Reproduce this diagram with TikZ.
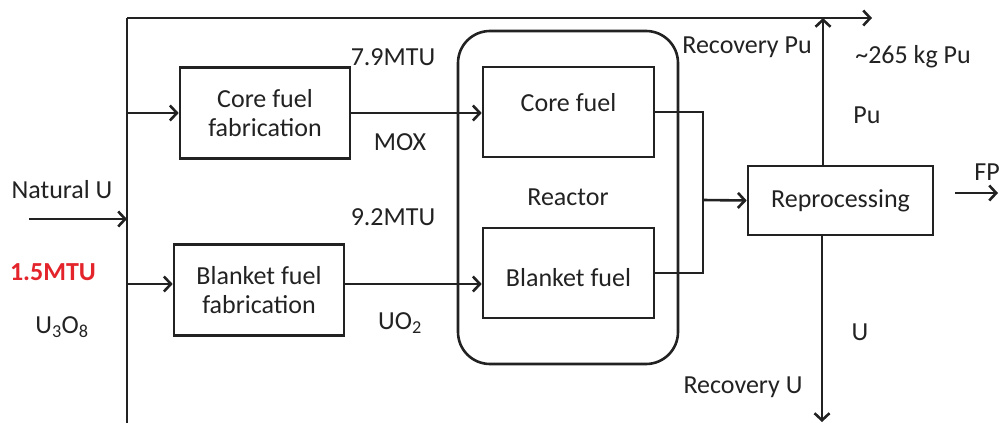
\documentclass[tikz,border=0pt]{standalone}
\usepackage{fontspec}
\setmainfont{Carlito}
\usetikzlibrary{positioning, arrows.meta}
\definecolor{flowInk}{HTML}{222222}
\definecolor{flowRed}{HTML}{E3242B}
\tikzset{
    flowBase/.style={
        rectangle,
        draw=flowInk,
        line width=2.6pt,
        inner sep=0pt,
        align=center,
        text=flowInk,
        font=\fontsize{26}{29}\selectfont
    },
    % Boxes
    fab/.style={flowBase, minimum width=170pt, minimum height=91pt},
    fuel/.style={flowBase, minimum width=171pt, minimum height=90pt},
    reactorBox/.style={flowBase, rounded corners=32pt, minimum width=220pt, minimum height=333pt},
    proc/.style={flowBase, minimum width=185pt, minimum height=69pt},
    % Lines and labels
    flowLine/.style={draw=flowInk, line width=2.6pt},
    flowArrow/.style={flowLine, -{Straight Barb[length=7pt,width=15pt]}},
    flowLabel/.style={text=flowInk, inner sep=0pt, font=\fontsize{26}{29}\selectfont}
}
\begin{document}
\begin{tikzpicture}[x=1pt, y=-1pt]
\useasboundingbox (0,0) rectangle (1003,423);

\node[fab] (corefab) at (265,113) {Core fuel\\fabrication};
\node[fab] (blanketfab) at (259,290) {Blanket fuel\\fabrication};
\node[reactorBox] (reactor) at (568,197.5) {Reactor};
\node[fuel, text depth=20pt] (corefuel) at (568.5,112) {Core fuel};
\node[fuel, text height=28pt] (blanketfuel) at (568.5,273) {Blanket fuel};
\node[proc] (reproc) at (840.5,200.5) {Reprocessing};

\coordinate (busTop) at (127,18);
\coordinate (busBot) at (127,423);
\coordinate (natIn) at (29,219);
\coordinate (coreLine) at (0,113);
\coordinate (blanketLine) at (0,284);
\coordinate (join) at (703,200);
\coordinate (puEnd) at (823,18);
\coordinate (topEnd) at (872,18);
\coordinate (uEnd) at (822,422);
\coordinate (fpStart) at (955,193);
\coordinate (fpEnd) at (998,193);

% feed bus
\draw[flowLine] (busBot) -- (busTop);
\draw[flowArrow] (busTop) -- (topEnd);
\draw[flowArrow] (natIn) -- (natIn -| busTop);
\draw[flowArrow] (coreLine -| busTop) -- (coreLine -| corefab.west);
\draw[flowArrow] (blanketLine -| busTop) -- (blanketLine -| blanketfab.west);

% fabrication to reactor
\draw[flowArrow] (coreLine -| corefab.east) -- (coreLine -| corefuel.west);
\draw[flowArrow] (blanketLine -| blanketfab.east) -- (blanketLine -| blanketfuel.west);

% reactor to reprocessing
\draw[flowLine] (corefuel.east) -| (join) |- (blanketfuel.east);
\draw[flowArrow] (join) -- (reproc.west);
\draw[flowArrow] (reproc.north -| puEnd) -- (puEnd);
\draw[flowArrow] (reproc.south -| uEnd) -- (uEnd);
\draw[flowArrow] (fpStart) -- (fpEnd);

% labels
\node[flowLabel] (natural) at (62,190) {Natural U};
\node[flowLabel, text=flowRed, font=\fontsize{26}{29}\selectfont\bfseries] (natMass) at (53,272) {1.5MTU};
\node[flowLabel] (natForm) at (62,327) {U\textsubscript{3}O\textsubscript{8}};
\node[flowLabel] (coreMass) at (393,57) {7.9MTU};
\node[flowLabel] (coreForm) at (400,142) {MOX};
\node[flowLabel] (blanketMass) at (393,217) {9.2MTU};
\node[flowLabel] (blanketForm) at (400,323) {UO\textsubscript{2}};
\node[flowLabel] (recPu) at (747,47) {Recovery Pu};
\node[flowLabel] (puMass) at (913,57) {\textasciitilde265 kg Pu};
\node[flowLabel] (puLbl) at (867,115) {Pu};
\node[flowLabel] (uLbl) at (860,332) {U};
\node[flowLabel] (recU) at (743,387) {Recovery U};
\node[flowLabel] (fpLbl) at (987,172) {FP};
\end{tikzpicture}
\end{document}
